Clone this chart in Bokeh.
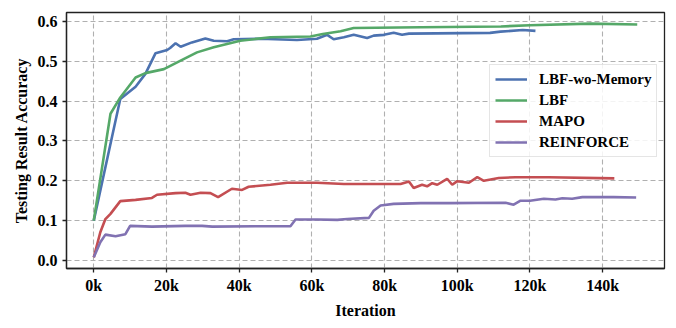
from bokeh.plotting import figure
from bokeh.models import Range1d, FixedTicker, PrintfTickFormatter, Legend, LegendItem
from bokeh.embed import file_html
from bokeh.resources import INLINE

# Iteration in thousands
blue_x = [0, 6, 7.3, 11.5, 14.2, 17, 20.2, 21, 22.5, 23.9, 27, 30.7, 33, 36.7, 38.5, 45.9, 55.9, 61.4,
          64.2, 66, 68.8, 71.5, 75.2, 77, 79.8, 82.5, 84.8, 86.7, 109, 111.9, 118, 121.5]
blue_y = [0.10, 0.351, 0.405, 0.436, 0.468, 0.52, 0.528, 0.533, 0.545, 0.536, 0.547, 0.557, 0.551, 0.550,
          0.555, 0.556, 0.553, 0.556, 0.566, 0.555, 0.560, 0.566, 0.558, 0.564, 0.566, 0.571, 0.566, 0.569,
          0.571, 0.574, 0.578, 0.576]

green_x = [0, 4.6, 7.3, 11.5, 14.2, 19.3, 24.3, 28.4, 33, 40.3, 48.6, 59.6, 63, 67.9, 71.5, 90, 112, 120,
           136.6, 149.5]
green_y = [0.10, 0.368, 0.409, 0.459, 0.47, 0.48, 0.503, 0.522, 0.535, 0.551, 0.56, 0.562, 0.568, 0.575,
           0.583, 0.585, 0.587, 0.59, 0.594, 0.592]

red_x = [0, 1.8, 3.2, 4.6, 7.3, 11.5, 16, 17.4, 22.5, 25.2, 26.6, 29.4, 32.1, 34.2, 38, 40.8, 42.6, 48.6,
         53.2, 61.4, 68.8, 84.4, 86.7, 88, 90.3, 91.7, 93.1, 94.5, 97.2, 98.6, 100, 103.2, 105.5, 107.3,
         111.4, 116, 125.2, 143.2]
red_y = [0.008, 0.071, 0.104, 0.117, 0.149, 0.152, 0.157, 0.165, 0.169, 0.17, 0.165, 0.17, 0.169, 0.159,
         0.18, 0.177, 0.185, 0.19, 0.195, 0.195, 0.192, 0.192, 0.198, 0.182, 0.19, 0.186, 0.194, 0.19,
         0.205, 0.19, 0.199, 0.195, 0.209, 0.2, 0.207, 0.209, 0.209, 0.206]

purple_x = [0, 1.8, 3.2, 6, 8.7, 10, 16, 25.2, 29.8, 32.6, 44.5, 54.1, 55.5, 61.4, 67, 69.7, 75.7, 77,
            78.9, 82.5, 90, 97.7, 113.3, 115.5, 117.4, 120, 123.8, 127, 128.9, 131.6, 134.4, 143, 149.2]
purple_y = [0.008, 0.046, 0.065, 0.061, 0.066, 0.087, 0.085, 0.087, 0.087, 0.085, 0.086, 0.086, 0.103,
            0.103, 0.102, 0.104, 0.107, 0.125, 0.138, 0.142, 0.144, 0.144, 0.145, 0.14, 0.15, 0.15, 0.155,
            0.153, 0.156, 0.155, 0.159, 0.159, 0.158]

x_ticks = [0, 20, 40, 60, 80, 100, 120, 140]
y_ticks = [0.0, 0.1, 0.2, 0.3, 0.4, 0.5, 0.6]

series = [
    ("LBF-wo-Memory", blue_x, blue_y, "#4C72B0"),
    ("LBF", green_x, green_y, "#55A868"),
    ("MAPO", red_x, red_y, "#C44E52"),
    ("REINFORCE", purple_x, purple_y, "#8172B2"),
]

FONT = "Liberation Serif"

p = figure(width=676, height=328, output_backend="svg", toolbar_location=None,
           x_range=Range1d(-7.5, 157), y_range=Range1d(-0.02, 0.622),
           min_border_left=66, min_border_right=12, min_border_top=12, min_border_bottom=60)

p.outline_line_color = "#222222"
p.outline_line_width = 1.3
p.outline_line_alpha = 1.0

for ax in (p.xaxis[0], p.yaxis[0]):
    ax.axis_line_color = "#222222"
    ax.axis_line_width = 1.3
    ax.major_tick_line_color = "#222222"
    ax.major_tick_line_width = 1.3
    ax.major_tick_out = 4
    ax.major_tick_in = 0
    ax.minor_tick_line_color = None
    ax.major_label_text_font = FONT
    ax.major_label_text_font_style = "bold"
    ax.major_label_text_font_size = "16px"
    ax.major_label_text_color = "black"
    ax.axis_label_text_font = FONT
    ax.axis_label_text_font_style = "bold"
    ax.axis_label_text_font_size = "16px"
    ax.axis_label_text_color = "black"

p.xaxis.ticker = FixedTicker(ticks=x_ticks)
p.xaxis.formatter = PrintfTickFormatter(format="%dk")
p.xaxis.major_label_standoff = 4
p.xaxis.axis_label = "Iteration"
p.xaxis.axis_label_standoff = 5

p.yaxis.ticker = FixedTicker(ticks=y_ticks)
p.yaxis.formatter = PrintfTickFormatter(format="%.1f")
p.yaxis.major_label_standoff = 5
p.yaxis.axis_label = "Testing Result Accuracy"
p.yaxis.axis_label_standoff = 5

for g in (p.xgrid[0], p.ygrid[0]):
    g.grid_line_color = "#b0b0b0"
    g.grid_line_dash = "5 3"
    g.grid_line_width = 1.1

items = []
for name, xs, ys, color in series:
    r = p.line(xs, ys, line_color=color, line_width=2.6)
    items.append(LegendItem(label=name, renderers=[r]))

legend = Legend(items=items, location=(423, 111))
legend.label_text_font = FONT
legend.label_text_font_style = "bold"
legend.label_text_font_size = "15px"
legend.label_text_color = "black"
legend.glyph_width = 32
legend.glyph_height = 18
legend.label_height = 18
legend.label_standoff = 12
legend.spacing = 3
legend.padding = 5
legend.margin = 0
legend.border_line_color = "#cccccc"
legend.border_line_width = 1
legend.background_fill_color = "white"
legend.background_fill_alpha = 0.85
p.add_layout(legend)

open("out.html", "w").write(file_html(p, INLINE))
